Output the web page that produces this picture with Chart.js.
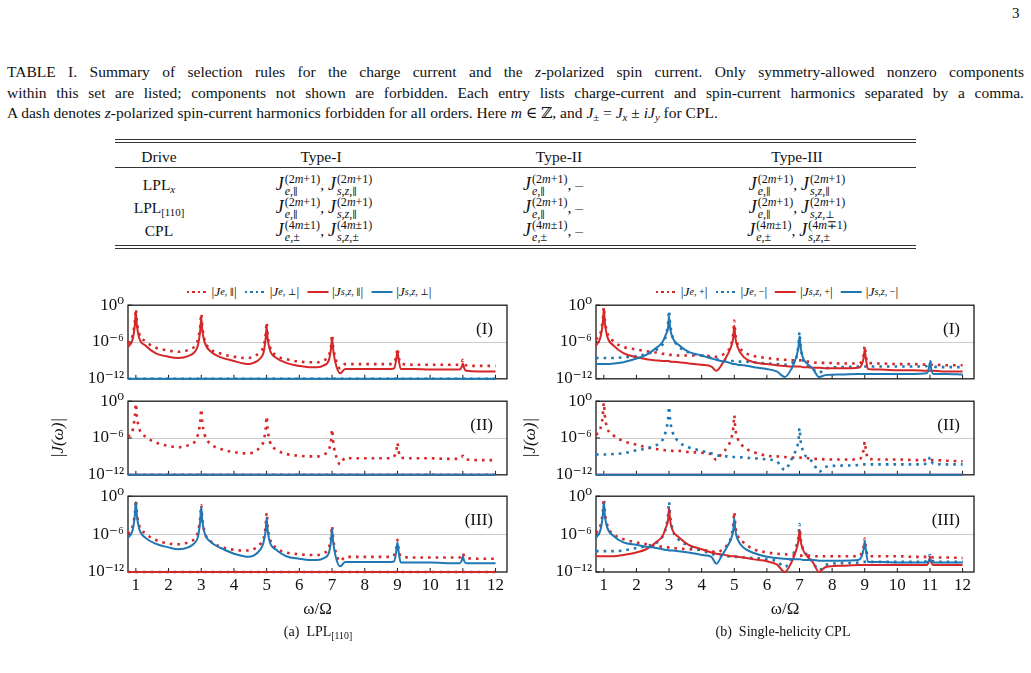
<!DOCTYPE html>
<html lang="en">
<head>
<meta charset="UTF-8">
<title>Selection rules and harmonic spectra</title>
<script src="https://cdn.jsdelivr.net/npm/chart.js"></script>
<style>
    body { margin: 0; background: #fff; }
    #page { position: relative; width: 1031px; height: 673px; overflow: hidden;
            font-family: "Liberation Serif", "DejaVu Serif", serif; color: #111; }
    #pageno { position: absolute; left: 1012px; top: 5px; font-size: 15px; }
    #caption { position: absolute; left: 7px; top: 62px; width: 1017px; font-size: 15.5px; line-height: 20.5px; }
    #caption .ln { display: block; white-space: nowrap; text-align: justify; text-align-last: justify; }
    #caption .ln.last { text-align-last: left; }
    #caption sub { font-size: 70%; vertical-align: -3px; line-height: 0; }
    .sym { font-family: "DejaVu Serif", serif; font-style: normal; }
    .rule { position: absolute; left: 115px; width: 801px; height: 0; border-top: 1px solid #333; }
    .cell { position: absolute; transform: translate(-50%, -50%); white-space: nowrap; font-size: 15.5px; }
    .cell sub { font-size: 70%; vertical-align: -3px; line-height: 0; }
    .jx { display: inline-block; white-space: nowrap; }
    .jx > i { font-size: 18px; }
    .st { display: inline-flex; flex-direction: column; vertical-align: 7px; font-size: 12px; line-height: 12px; margin-left: 1px; text-align: left; }
    .st .sym { font-size: 10px; }
    .legend { position: absolute; transform: translateX(-50%); display: flex; align-items: center; gap: 8px; font-size: 13.5px; white-space: nowrap; }
    .legend .it { display: flex; align-items: center; }
    .legend sub { font-size: 75%; vertical-align: -2px; line-height: 0; }
    .legend .sym { font-size: 9px; }
    .sw { display: inline-block; width: 21px; margin-right: 4px; }
    .sw.dot { height: 2.5px; }
    .sw.line { height: 2px; }
    .capt { position: absolute; transform: translate(-50%, -50%); font-size: 14px; white-space: nowrap; }
    .capt sub { font-size: 70%; vertical-align: -3px; line-height: 0; }
    canvas { position: absolute; }
</style>
</head>
<body>
<div id="page">
    <div id="pageno">3</div>
    <div id="caption">
        <span class="ln">TABLE I. Summary of selection rules for the charge current and the <i>z</i>-polarized spin current. Only symmetry-allowed nonzero components</span>
        <span class="ln">within this set are listed; components not shown are forbidden. Each entry lists charge-current and spin-current harmonics separated by a comma.</span>
        <span class="ln last">A dash denotes <i>z</i>-polarized spin-current harmonics forbidden for all orders. Here <i>m</i> ∈ ℤ, and <i>J</i><sub>±</sub> = <i>J<sub>x</sub></i> ± <i>iJ<sub>y</sub></i> for CPL.</span>
    </div>

    <div class="rule" style="top:139px"></div>
    <div class="rule" style="top:142px"></div>
    <div class="cell" style="left:159px;top:157px">Drive</div>
    <div class="cell" style="left:321px;top:157px">Type-I</div>
    <div class="cell" style="left:559px;top:157px">Type-II</div>
    <div class="cell" style="left:797px;top:157px">Type-III</div>
    <div class="rule" style="top:167px"></div>

    <div class="cell" style="left:159px;top:185px">LPL<sub><i>x</i></sub></div>
    <div class="cell" style="left:324px;top:185px"><span class="jx"><i>J</i><span class="st"><span>(2<i>m</i>+1)</span><span><i>e</i>,<span class="sym">∥</span></span></span></span>, <span class="jx"><i>J</i><span class="st"><span>(2<i>m</i>+1)</span><span><i>s</i>,<i>z</i>,<span class="sym">∥</span></span></span></span></div>
    <div class="cell" style="left:553px;top:185px"><span class="jx"><i>J</i><span class="st"><span>(2<i>m</i>+1)</span><span><i>e</i>,<span class="sym">∥</span></span></span></span>, –</div>
    <div class="cell" style="left:797px;top:185px"><span class="jx"><i>J</i><span class="st"><span>(2<i>m</i>+1)</span><span><i>e</i>,<span class="sym">∥</span></span></span></span>, <span class="jx"><i>J</i><span class="st"><span>(2<i>m</i>+1)</span><span><i>s</i>,<i>z</i>,<span class="sym">∥</span></span></span></span></div>

    <div class="cell" style="left:159px;top:208px">LPL<sub>[110]</sub></div>
    <div class="cell" style="left:324px;top:208px"><span class="jx"><i>J</i><span class="st"><span>(2<i>m</i>+1)</span><span><i>e</i>,<span class="sym">∥</span></span></span></span>, <span class="jx"><i>J</i><span class="st"><span>(2<i>m</i>+1)</span><span><i>s</i>,<i>z</i>,<span class="sym">∥</span></span></span></span></div>
    <div class="cell" style="left:553px;top:208px"><span class="jx"><i>J</i><span class="st"><span>(2<i>m</i>+1)</span><span><i>e</i>,<span class="sym">∥</span></span></span></span>, –</div>
    <div class="cell" style="left:797px;top:208px"><span class="jx"><i>J</i><span class="st"><span>(2<i>m</i>+1)</span><span><i>e</i>,<span class="sym">∥</span></span></span></span>, <span class="jx"><i>J</i><span class="st"><span>(2<i>m</i>+1)</span><span><i>s</i>,<i>z</i>,<span class="sym">⊥</span></span></span></span></div>

    <div class="cell" style="left:159px;top:231px">CPL</div>
    <div class="cell" style="left:324px;top:231px"><span class="jx"><i>J</i><span class="st"><span>(4<i>m</i>±1)</span><span><i>e</i>,±</span></span></span>, <span class="jx"><i>J</i><span class="st"><span>(4<i>m</i>±1)</span><span><i>s</i>,<i>z</i>,±</span></span></span></div>
    <div class="cell" style="left:553px;top:231px"><span class="jx"><i>J</i><span class="st"><span>(4<i>m</i>±1)</span><span><i>e</i>,±</span></span></span>, –</div>
    <div class="cell" style="left:797px;top:231px"><span class="jx"><i>J</i><span class="st"><span>(4<i>m</i>±1)</span><span><i>e</i>,±</span></span></span>, <span class="jx"><i>J</i><span class="st"><span>(4<i>m</i>∓1)</span><span><i>s</i>,<i>z</i>,±</span></span></span></div>

    <div class="rule" style="top:245px"></div>
    <div class="rule" style="top:248px"></div>

    <!-- legends -->
    <div class="legend" style="left:309px;top:284px">
        <span class="it"><span class="sw dot" id="swA1"></span>|<i>J</i><sub><i>e</i>, <span class="sym">∥</span></sub>|</span>
        <span class="it"><span class="sw dot" id="swA2"></span>|<i>J</i><sub><i>e</i>, <span class="sym">⊥</span></sub>|</span>
        <span class="it"><span class="sw line" id="swA3"></span>|<i>J</i><sub><i>s</i>,<i>z</i>, <span class="sym">∥</span></sub>|</span>
        <span class="it"><span class="sw line" id="swA4"></span>|<i>J</i><sub><i>s</i>,<i>z</i>, <span class="sym">⊥</span></sub>|</span>
    </div>
    <div class="legend" style="left:777px;top:284px">
        <span class="it"><span class="sw dot" id="swB1"></span>|<i>J</i><sub><i>e</i>, +</sub>|</span>
        <span class="it"><span class="sw dot" id="swB2"></span>|<i>J</i><sub><i>e</i>, −</sub>|</span>
        <span class="it"><span class="sw line" id="swB3"></span>|<i>J</i><sub><i>s</i>,<i>z</i>, +</sub>|</span>
        <span class="it"><span class="sw line" id="swB4"></span>|<i>J</i><sub><i>s</i>,<i>z</i>, −</sub>|</span>
    </div>

    <canvas id="a1" width="480" height="102" style="left:40px;top:291px"></canvas>
    <canvas id="a2" width="480" height="102" style="left:40px;top:387px"></canvas>
    <canvas id="a3" width="480" height="138" style="left:40px;top:482px"></canvas>
    <canvas id="b1" width="470" height="102" style="left:520px;top:291px"></canvas>
    <canvas id="b2" width="470" height="102" style="left:520px;top:387px"></canvas>
    <canvas id="b3" width="470" height="138" style="left:520px;top:482px"></canvas>

    <div class="capt" style="left:318px;top:632px">(a)&nbsp; LPL<sub>[110]</sub></div>
    <div class="capt" style="left:783px;top:632px">(b)&nbsp; Single-helicity CPL</div>
</div>

<script>
    // frequency grid omega/Omega (dense around the odd harmonics)
    const omega = [0.76, 0.9, 0.97, 1.0, 1.03, 1.1, 1.3, 1.6, 2.0, 2.3, 2.6, 2.8,
                   2.9, 2.97, 3.0, 3.03, 3.1, 3.3, 3.6, 4.0, 4.3, 4.45, 4.6, 4.8,
                   4.9, 4.97, 5.0, 5.03, 5.1, 5.3, 5.6, 6.0, 6.3, 6.55, 6.75,
                   6.9, 6.97, 7.0, 7.03, 7.1, 7.25, 7.4, 7.6, 7.8, 8.3, 8.8,
                   8.9, 8.97, 9.0, 9.03, 9.1, 9.5, 10.0, 10.5,
                   10.9, 10.97, 11.0, 11.03, 11.1, 11.5, 12.0];

    // forbidden components sit on the 1e-12 floor
    const floorOmega = [0.76, 12.0];
    const floorJ = [1e-12, 1e-12];

    // log10 |J| -- (a) LPL[110]
    const aI_eLL = [-6.3, -5.0, -2.6, -0.6, -2.6, -4.6, -5.9, -6.9, -7.4, -7.6, -7.3, -6.7,
                    -5.6, -3.4, -1.4, -3.4, -5.6, -7.2, -7.9, -8.4, -8.6, -8.6, -8.4, -7.6,
                    -6.8, -4.8, -2.8, -4.8, -6.8, -8.2, -8.8, -9.2, -9.3, -9.3, -9.0,
                    -8.2, -6.6, -4.8, -6.6, -8.6, -10.3, -9.6, -9.6, -9.6, -9.6, -9.6,
                    -9.3, -8.2, -7.0, -8.2, -9.5, -9.7, -9.7, -9.7,
                    -9.7, -9.3, -8.9, -9.4, -9.8, -9.9, -9.9];
    const aI_sLL = [-6.8, -5.6, -3.2, -1.1, -3.2, -5.3, -6.6, -7.8, -8.4, -8.6, -8.3, -7.6,
                    -6.5, -4.0, -2.1, -4.0, -6.0, -7.6, -8.5, -9.1, -9.5, -9.6, -9.4, -8.7,
                    -7.8, -5.4, -3.5, -5.4, -7.3, -8.6, -9.4, -9.9, -10.1, -10.1, -9.8,
                    -9.0, -7.0, -5.3, -7.0, -9.3, -11.1, -10.4, -10.4, -10.4, -10.4, -10.4,
                    -10.3, -8.6, -7.5, -8.6, -10.4, -10.4, -10.5, -10.5,
                    -10.5, -10.0, -9.5, -10.1, -10.7, -10.8, -10.8];
    const aII_eLL = [-5.8, -4.8, -2.4, -0.4, -2.4, -4.4, -5.8, -6.7, -7.3, -7.5, -7.2, -6.6,
                     -5.4, -3.3, -1.3, -3.3, -5.4, -7.0, -7.8, -8.3, -8.5, -8.5, -8.3, -7.5,
                     -6.6, -4.5, -2.5, -4.5, -6.6, -7.9, -8.6, -8.9, -9.0, -9.0, -8.7,
                     -7.9, -6.4, -4.6, -6.4, -8.5, -10.3, -9.2, -9.3, -9.3, -9.3, -9.3,
                     -9.0, -8.0, -6.8, -8.0, -9.2, -9.3, -9.3, -9.4,
                     -9.4, -9.1, -8.9, -9.2, -9.5, -9.6, -9.6];
    const aIII_eLL = [-6.0, -4.8, -2.6, -0.6, -2.6, -4.6, -5.9, -6.9, -7.5, -7.6, -7.3, -6.7,
                      -5.6, -3.4, -1.4, -3.4, -5.6, -7.2, -8.0, -8.5, -8.6, -8.6, -8.4, -7.6,
                      -6.8, -4.7, -2.6, -4.7, -6.8, -8.2, -8.9, -9.2, -9.3, -9.3, -9.0,
                      -8.2, -6.5, -4.7, -6.5, -8.6, -10.3, -9.6, -9.6, -9.6, -9.6, -9.6,
                      -9.3, -8.1, -6.9, -8.1, -9.5, -9.7, -9.7, -9.7,
                      -9.7, -9.3, -9.0, -9.4, -9.8, -9.9, -9.9];
    const aIII_sT = [-6.6, -5.4, -3.0, -0.9, -3.0, -5.1, -6.6, -7.5, -8.1, -8.4, -8.1, -7.4,
                     -6.4, -3.8, -1.6, -3.8, -5.8, -7.3, -8.2, -9.1, -9.5, -9.6, -9.4, -8.5,
                     -7.4, -5.4, -3.5, -5.4, -7.3, -8.5, -9.5, -9.9, -10.1, -10.1, -9.8,
                     -9.0, -7.0, -5.2, -7.0, -9.3, -11.1, -10.4, -10.4, -10.4, -10.4, -10.4,
                     -10.3, -8.5, -7.3, -8.5, -10.5, -10.5, -10.5, -10.6,
                     -10.6, -10.1, -9.5, -10.1, -10.6, -10.6, -10.6];

    // log10 |J| -- (b) single-helicity CPL
    const bI_eP = [-5.6, -4.5, -2.3, -0.3, -2.3, -4.4, -5.9, -6.8, -7.2, -7.5, -7.7, -7.9,
                   -8.0, -8.1, -8.1, -8.1, -8.1, -8.2, -8.2, -8.2, -8.3, -8.4, -8.2, -7.4,
                   -6.6, -4.5, -2.5, -4.5, -6.3, -7.6, -8.3, -8.6, -8.8, -8.9, -9.0,
                   -9.0, -9.0, -9.0, -9.0, -9.1, -9.2, -9.3, -9.4, -9.4, -9.5, -9.5,
                   -9.2, -8.0, -6.6, -8.0, -9.4, -9.5, -9.6, -9.6,
                   -9.7, -9.7, -9.7, -9.7, -9.7, -9.8, -9.8];
    const bI_eM = [-8.6, -8.6, -8.6, -8.6, -8.6, -8.6, -8.6, -8.5, -8.3, -8.0, -7.3, -6.4,
                   -5.0, -2.9, -0.9, -2.9, -5.0, -6.7, -7.7, -8.2, -8.6, -8.8, -8.9, -9.0,
                   -9.1, -9.1, -9.1, -9.1, -9.2, -9.2, -9.3, -9.5, -9.6, -9.7, -9.5,
                   -8.6, -6.4, -4.4, -6.4, -8.8, -9.8, -10.4, -11.0, -10.3, -10.1, -10.0,
                   -10.0, -10.0, -10.0, -10.0, -10.0, -10.0, -10.0, -10.0,
                   -9.9, -9.4, -9.1, -9.4, -10.0, -10.1, -10.1];
    const bI_sP = [-6.6, -5.2, -2.8, -0.7, -2.8, -5.0, -6.6, -7.8, -8.5, -8.8, -9.0, -9.1,
                   -9.1, -9.1, -9.1, -9.2, -9.2, -9.3, -9.5, -9.7, -10.0, -10.7, -9.8, -8.0,
                   -6.8, -5.2, -3.3, -5.2, -6.8, -8.5, -9.3, -9.6, -9.8, -9.9, -10.0,
                   -10.0, -10.0, -10.0, -10.0, -10.1, -10.1, -10.2, -10.2, -10.3, -10.3, -10.2,
                   -9.8, -8.5, -7.2, -8.5, -10.4, -10.5, -10.6, -10.6,
                   -10.7, -10.7, -10.7, -10.7, -10.7, -10.8, -10.8];
    const bI_sM = [-9.6, -9.6, -9.6, -9.6, -9.6, -9.6, -9.5, -9.3, -8.7, -8.1, -7.0, -6.0,
                   -4.8, -3.6, -1.8, -3.6, -5.2, -6.5, -7.6, -8.2, -8.7, -8.9, -9.1, -9.3,
                   -9.5, -9.6, -9.6, -9.6, -9.7, -9.8, -10.1, -10.4, -10.8, -11.7, -10.4,
                   -8.5, -6.7, -5.1, -6.7, -8.5, -9.6, -10.3, -11.7, -11.4, -11.3, -11.2,
                   -11.2, -11.2, -11.2, -11.2, -11.2, -11.2, -11.2, -11.2,
                   -11.1, -10.2, -9.3, -10.2, -11.2, -11.2, -11.3];
    const bII_eP = [-5.5, -4.4, -2.3, -0.3, -2.3, -4.3, -5.6, -6.5, -7.1, -7.5, -7.8, -7.9,
                    -8.0, -8.0, -8.0, -8.0, -8.1, -8.1, -8.3, -8.4, -8.7, -9.6, -8.6, -7.4,
                    -6.2, -4.3, -2.3, -4.3, -6.0, -7.5, -8.3, -8.9, -9.0, -9.1, -9.2,
                    -9.2, -9.2, -9.2, -9.2, -9.3, -9.3, -9.4, -9.4, -9.5, -9.5, -9.5,
                    -9.1, -7.8, -6.6, -7.8, -9.4, -9.5, -9.5, -9.6,
                    -9.6, -9.6, -9.6, -9.6, -9.6, -9.7, -9.8];
    const bII_eM = [-8.7, -8.7, -8.7, -8.7, -8.7, -8.7, -8.6, -8.5, -8.0, -7.7, -7.2, -6.3,
                    -4.9, -2.9, -0.9, -2.9, -4.9, -6.6, -7.5, -8.1, -8.5, -8.8, -8.9, -9.0,
                    -9.1, -9.1, -9.1, -9.1, -9.1, -9.2, -9.3, -9.5, -9.8, -11.2, -9.5,
                    -7.8, -6.3, -4.4, -6.3, -8.0, -9.3, -9.9, -11.5, -10.7, -10.5, -10.4,
                    -10.3, -10.3, -10.3, -10.3, -10.3, -10.3, -10.3, -10.3,
                    -10.2, -9.5, -9.1, -9.5, -10.2, -10.3, -10.3];
    const bIII_eP = [-5.8, -4.6, -2.4, -0.4, -2.4, -4.5, -6.0, -6.8, -7.3, -7.6, -7.9, -8.0,
                     -8.1, -8.1, -8.1, -8.1, -8.2, -8.3, -8.4, -8.5, -8.7, -8.9, -8.6, -7.6,
                     -6.5, -4.5, -2.5, -4.5, -6.2, -7.4, -8.4, -8.9, -9.1, -9.2, -9.3,
                     -9.4, -9.4, -9.4, -9.4, -9.4, -9.4, -9.5, -9.5, -9.5, -9.5, -9.5,
                     -9.1, -7.9, -6.7, -7.9, -9.5, -9.5, -9.5, -9.6,
                     -9.6, -9.6, -9.6, -9.6, -9.7, -9.7, -9.8];
    const bIII_eM = [-8.7, -8.7, -8.7, -8.7, -8.7, -8.7, -8.7, -8.6, -8.2, -7.9, -7.4, -6.4,
                     -5.1, -2.9, -0.9, -2.9, -5.1, -6.9, -7.8, -8.6, -9.1, -9.3, -9.4, -9.5,
                     -9.6, -9.6, -9.6, -9.6, -9.6, -9.7, -9.8, -10.0, -10.3, -11.2, -9.8,
                     -7.9, -6.4, -4.4, -6.4, -8.2, -9.4, -10.4, -11.7, -10.9, -10.6, -10.5,
                     -10.4, -10.4, -10.4, -10.4, -10.4, -10.4, -10.4, -10.4,
                     -10.3, -9.7, -9.3, -9.7, -10.3, -10.4, -10.4];
    const bIII_sP = [-9.5, -9.5, -9.5, -9.5, -9.5, -9.5, -9.5, -9.3, -8.9, -8.4, -7.3, -6.3,
                     -5.0, -3.7, -1.9, -3.7, -5.3, -6.5, -7.7, -8.4, -8.9, -9.1, -9.2, -9.4,
                     -9.5, -9.5, -9.5, -9.5, -9.6, -9.7, -10.0, -10.3, -10.8, -12.0, -10.5,
                     -8.5, -6.9, -5.3, -6.9, -8.4, -9.6, -10.4, -12.0, -11.2, -11.0, -10.9,
                     -10.9, -10.9, -10.9, -10.9, -10.9, -10.9, -10.9, -10.9,
                     -10.9, -10.3, -9.6, -10.3, -10.9, -10.9, -10.9];
    const bIII_sM = [-6.6, -5.3, -3.0, -0.9, -3.0, -4.9, -6.3, -7.3, -7.7, -8.0, -8.2, -8.4,
                     -8.5, -8.5, -8.6, -8.6, -8.6, -8.7, -8.9, -9.3, -9.6, -10.7, -9.6, -7.8,
                     -6.8, -5.3, -3.5, -5.3, -6.8, -8.2, -9.0, -9.6, -9.8, -9.9, -10.0,
                     -10.0, -10.0, -10.0, -10.0, -10.1, -10.1, -10.1, -10.2, -10.2, -10.2, -10.1,
                     -9.6, -8.3, -7.1, -8.3, -10.4, -10.4, -10.5, -10.5,
                     -10.5, -10.2, -10.0, -10.2, -10.5, -10.5, -10.5];

    const xTicks = [1, 2, 3, 4, 5, 6, 7, 8, 9, 10, 11, 12];
    const yTicks = [1e-12, 1e-6, 1];
    const yTickLabels = ['10⁻¹²', '10⁻⁶', '10⁰'];

    const RED = '#d62728';
    const BLUE = '#1f77b4';
    const SERIF = '"Liberation Serif", "DejaVu Serif", serif';
    const INK = '#111';

    // legend swatches
    const dots = c => `repeating-linear-gradient(to right, ${c} 0 2.5px, transparent 2.5px 5.5px)`;
    document.getElementById('swA1').style.background = dots(RED);
    document.getElementById('swA2').style.background = dots(BLUE);
    document.getElementById('swA3').style.background = RED;
    document.getElementById('swA4').style.background = BLUE;
    document.getElementById('swB1').style.background = dots(RED);
    document.getElementById('swB2').style.background = dots(BLUE);
    document.getElementById('swB3').style.background = RED;
    document.getElementById('swB4').style.background = BLUE;

    function curve(logs, color, dotted, order) {
        return {
            data: omega.map((x, i) => ({ x: x, y: Math.pow(10, logs[i]) })),
            borderColor: color,
            borderWidth: dotted ? 2.6 : 2,
            borderDash: dotted ? [2.6, 5] : [],
            order: order
        };
    }

    function forbidden(color, dotted, order) {
        return {
            data: floorOmega.map((x, i) => ({ x: x, y: floorJ[i] })),
            borderColor: color,
            borderWidth: dotted ? 2.6 : 2,
            borderDash: dotted ? [2.6, 5] : [],
            order: order
        };
    }

    // box around each panel, inward ticks and the (I)/(II)/(III) tag
    const frame = {
        id: 'frame',
        beforeDatasetsDraw(chart) {
            const { ctx, chartArea: a, scales } = chart;
            ctx.save();
            ctx.strokeStyle = '#1a1a1a';
            ctx.lineWidth = 1.3;
            ctx.strokeRect(a.left, a.top, a.right - a.left, a.bottom - a.top);
            ctx.lineWidth = 1;
            ctx.beginPath();
            scales.x.ticks.forEach(t => {
                const px = scales.x.getPixelForValue(t.value);
                ctx.moveTo(px, a.bottom);
                ctx.lineTo(px, a.bottom - 4);
            });
            scales.y.ticks.forEach(t => {
                const py = scales.y.getPixelForValue(t.value);
                ctx.moveTo(a.left, py);
                ctx.lineTo(a.left + 4, py);
            });
            ctx.stroke();
            ctx.restore();
        },
        afterDraw(chart, args, opts) {
            if (!opts.tag) return;
            const { ctx, chartArea: a } = chart;
            ctx.save();
            ctx.font = '17px ' + SERIF;
            ctx.fillStyle = INK;
            ctx.textAlign = 'right';
            ctx.textBaseline = 'middle';
            ctx.fillText(opts.tag, a.right - 14, a.top + 24);
            ctx.restore();
        }
    };

    function panel(id, datasets, o) {
        const bottom = !!o.bottom;
        return new Chart(document.getElementById(id), {
            type: 'line',
            data: { datasets: datasets },
            options: {
                animation: false,
                responsive: false,
                clip: false,
                elements: {
                    point: { radius: 0 },
                    line: { cubicInterpolationMode: 'monotone', borderJoinStyle: 'round', borderCapStyle: 'butt' }
                },
                layout: { padding: { top: 12, right: o.padRight, bottom: 0, left: 0 } },
                plugins: {
                    legend: { display: false },
                    tooltip: { enabled: false },
                    frame: { tag: o.tag }
                },
                scales: {
                    x: {
                        type: 'linear',
                        min: 0.76,
                        max: 12.35,
                        afterBuildTicks: s => { s.ticks = xTicks.map(v => ({ value: v })); },
                        afterFit: s => { s.height = bottom ? 48 : 12; },
                        grid: { display: false, drawTicks: false },
                        border: { display: false },
                        ticks: {
                            display: bottom,
                            padding: 3,
                            autoSkip: false,
                            maxRotation: 0,
                            color: INK,
                            font: { family: SERIF, size: 17 },
                            callback: v => String(v)
                        },
                        title: {
                            display: bottom,
                            text: 'ω/Ω',
                            color: INK,
                            font: { family: SERIF, size: 17 },
                            padding: { top: 0, bottom: 0 }
                        }
                    },
                    y: {
                        type: 'logarithmic',
                        min: 1e-12,
                        max: 1,
                        afterBuildTicks: s => { s.ticks = yTicks.map(v => ({ value: v })); },
                        afterFit: s => { s.width = o.yWidth; },
                        grid: {
                            drawTicks: false,
                            lineWidth: 1,
                            color: c => (c.tick && c.tick.value === 1e-6) ? '#cccccc' : 'rgba(0,0,0,0)'
                        },
                        border: { display: false },
                        ticks: {
                            padding: 4,
                            color: INK,
                            font: { family: SERIF, size: 17 },
                            callback: (v, i) => yTickLabels[i]
                        },
                        title: {
                            display: !!o.ytitle,
                            text: '|J(ω)|',
                            color: INK,
                            font: { family: SERIF, size: 17, style: 'italic' },
                            padding: { top: o.titlePad || 0, bottom: 0 }
                        }
                    }
                }
            },
            plugins: [frame]
        });
    }

    // (a) LPL[110]: J_e,par (dotted red), J_e,perp (dotted blue), J_s,par (red), J_s,perp (blue)
    const A = { padRight: 13, yWidth: 88, titlePad: 8 };
    panel('a1', [
        curve(aI_eLL, RED, true, 3),
        forbidden(BLUE, true, 2),
        curve(aI_sLL, RED, false, 1),
        forbidden(BLUE, false, 0)
    ], Object.assign({}, A, { tag: '(I)' }));
    panel('a2', [
        curve(aII_eLL, RED, true, 3),
        forbidden(BLUE, true, 2),
        forbidden(RED, false, 1),
        forbidden(BLUE, false, 0)
    ], Object.assign({}, A, { tag: '(II)', ytitle: true }));
    panel('a3', [
        curve(aIII_eLL, RED, true, 3),
        forbidden(BLUE, true, 2),
        forbidden(RED, false, 1),
        curve(aIII_sT, BLUE, false, 0)
    ], Object.assign({}, A, { tag: '(III)', bottom: true }));

    // (b) single-helicity CPL: J_e,+ / J_e,- dotted, J_sz,+ / J_sz,- solid
    const B = { padRight: 16, yWidth: 76, titlePad: 0 };
    panel('b1', [
        curve(bI_eP, RED, true, 3),
        curve(bI_eM, BLUE, true, 2),
        curve(bI_sP, RED, false, 1),
        curve(bI_sM, BLUE, false, 0)
    ], Object.assign({}, B, { tag: '(I)' }));
    panel('b2', [
        curve(bII_eP, RED, true, 3),
        curve(bII_eM, BLUE, true, 2),
        forbidden(RED, false, 1),
        forbidden(BLUE, false, 0)
    ], Object.assign({}, B, { tag: '(II)', ytitle: true }));
    panel('b3', [
        curve(bIII_eP, RED, true, 3),
        curve(bIII_eM, BLUE, true, 2),
        curve(bIII_sP, RED, false, 1),
        curve(bIII_sM, BLUE, false, 0)
    ], Object.assign({}, B, { tag: '(III)', bottom: true }));
</script>
</body>
</html>
